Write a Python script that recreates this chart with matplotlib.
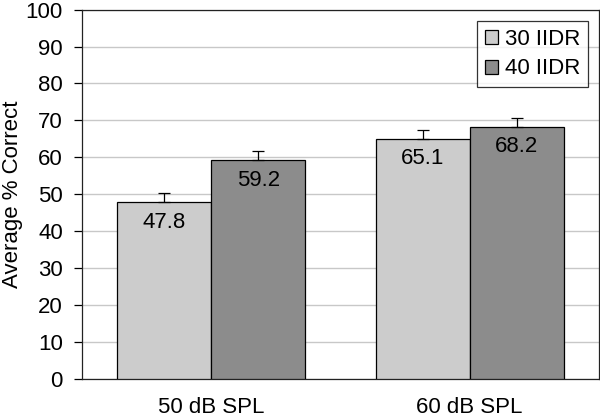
import numpy as np
import matplotlib.pyplot as plt

# 데이터
categories = ['50 dB SPL', '60 dB SPL']
series_names = ['30 IIDR', '40 IIDR']
iidr30 = [47.8, 65.1]
iidr40 = [59.2, 68.2]
err30 = [2.5, 2.4]
err40 = [2.4, 2.4]
yticks = list(range(0, 101, 10))

plt.rcParams['font.family'] = ['Liberation Sans', 'DejaVu Sans']

fig = plt.figure(figsize=(6, 4.2), dpi=100)
ax = fig.add_axes([0.137, 0.098, 0.861, 0.879])

x = np.arange(len(categories))
w = 0.364

b1 = ax.bar(x - w / 2, iidr30, w, color='#cccccc', edgecolor='black', linewidth=0.9,
            label=series_names[0], zorder=3,
            yerr=[np.zeros(len(err30)), err30],
            error_kw=dict(ecolor='black', elinewidth=0.9, capsize=4, capthick=0.9))
b2 = ax.bar(x + w / 2, iidr40, w, color='#8c8c8c', edgecolor='black', linewidth=0.9,
            label=series_names[1], zorder=3,
            yerr=[np.zeros(len(err40)), err40],
            error_kw=dict(ecolor='black', elinewidth=0.9, capsize=4, capthick=0.9))

# 막대 안쪽 값 표시
for xs, vals in [(x - w / 2, iidr30), (x + w / 2, iidr40)]:
    for xi, v in zip(xs, vals):
        ax.text(xi, v - 5.4, f'{v:.1f}', ha='center', va='center', fontsize=16, zorder=4)

ax.set_xlim(-0.5, 1.5)
ax.set_ylim(0, 100)
ax.set_yticks(yticks)
ax.set_xticks(x)
ax.set_xticklabels(categories, fontsize=16)
ax.tick_params(axis='x', length=0, pad=13)
ax.tick_params(axis='y', direction='out', length=6, width=0.9, pad=8, labelsize=16)
ax.set_ylabel('Average % Correct', fontsize=16, labelpad=2)

ax.yaxis.grid(True, color='#c8c8c8', linewidth=1, zorder=0)
ax.set_axisbelow(True)
for s in ax.spines.values():
    s.set_color('#222222')
    s.set_linewidth(0.9)

leg = ax.legend(loc='upper right', fontsize=16, frameon=True, fancybox=False,
                handlelength=0.6, handleheight=0.6, handletextpad=0.3,
                borderpad=0.35, labelspacing=0.4, borderaxespad=0.5)
leg.get_frame().set_edgecolor('black')
leg.get_frame().set_linewidth(0.9)

plt.savefig('out.png', dpi=100)
